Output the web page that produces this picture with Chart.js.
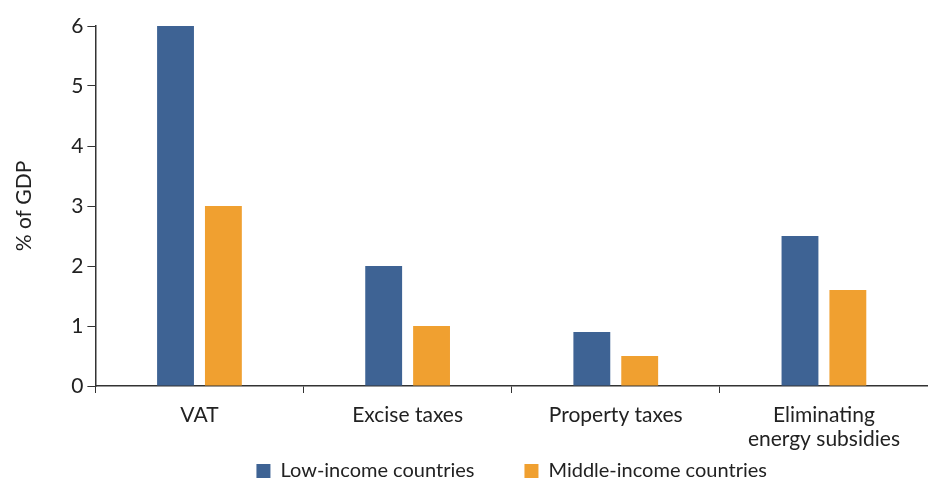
<!DOCTYPE html>
<html>
<head>
<meta charset="utf-8">
<script src="https://cdn.jsdelivr.net/npm/chart.js@4"></script>
<style>
  html, body { margin: 0; padding: 0; background: #fff; }
  #wrap { width: 928px; height: 485px; }
</style>
</head>
<body>
<div id="wrap"><canvas id="chart"></canvas></div>
<script>
(function(){
    "use strict";

    const categories = ['VAT', 'Excise taxes', 'Property taxes', ['Eliminating', 'energy subsidies']];
    const lowIncome = [6, 2, 0.9, 2.5];
    const middleIncome = [3, 1, 0.5, 1.6];
    const yTicks = [0, 1, 2, 3, 4, 5, 6];

    const textColor = '#222';
    const axisColor = '#333';

    Chart.defaults.font.family = 'Lato, "Open Sans", sans-serif';
    Chart.defaults.color = textColor;

    const config = {
        type: 'bar',
        data: {
            labels: categories,
            datasets: [{
                label: 'Low-income countries',
                data: lowIncome,
                backgroundColor: 'rgb(62, 99, 148)',
                barPercentage: 0.77,
                categoryPercentage: 0.46
            }, {
                label: 'Middle-income countries',
                data: middleIncome,
                backgroundColor: 'rgb(240, 160, 48)',
                barPercentage: 0.77,
                categoryPercentage: 0.46
            }]
        },
        options: {
            responsive: true,
            maintainAspectRatio: false,
            animation: false,
            layout: { padding: { top: 26, right: -4, left: 12, bottom: -6 } },
            plugins: {
                tooltip: { enabled: false },
                legend: {
                    position: 'bottom',
                    fullSize: false, // centre it under the plot, not the page
                    labels: {
                        font: { size: 20 },
                        boxWidth: 14,
                        boxHeight: 14,
                        padding: 50,
                        color: textColor
                    }
                }
            },
            scales: {
                x: {
                    offset: true,
                    grid: {
                        offset: true,
                        drawOnChartArea: false,
                        drawTicks: true,
                        tickLength: 7,
                        color: axisColor
                    },
                    border: { color: axisColor, width: 1.5 },
                    ticks: { font: { size: 21, lineHeight: 1.15 }, color: textColor, padding: 10 },
                    // let the labels run into the empty top of the legend box
                    afterFit: function(scale) {
                        scale.height = 25;
                        scale._computeLabelArea = function() { return undefined; };
                    }
                },
                y: {
                    min: 0,
                    max: 6,
                    afterBuildTicks: function(axis) {
                        axis.ticks = yTicks.map(v => ({ value: v }));
                    },
                    grid: {
                        drawOnChartArea: false,
                        drawTicks: true,
                        tickLength: 8,
                        color: axisColor
                    },
                    border: { color: axisColor, width: 1.5 },
                    ticks: { font: { size: 21 }, color: textColor, padding: 4 },
                    title: {
                        display: true,
                        text: '% of GDP',
                        font: { size: 21 },
                        color: textColor,
                        padding: { top: 0, bottom: 30 }
                    }
                }
            }
        }
    };

    new Chart(document.getElementById('chart'), config);
})();
</script>
</body>
</html>
